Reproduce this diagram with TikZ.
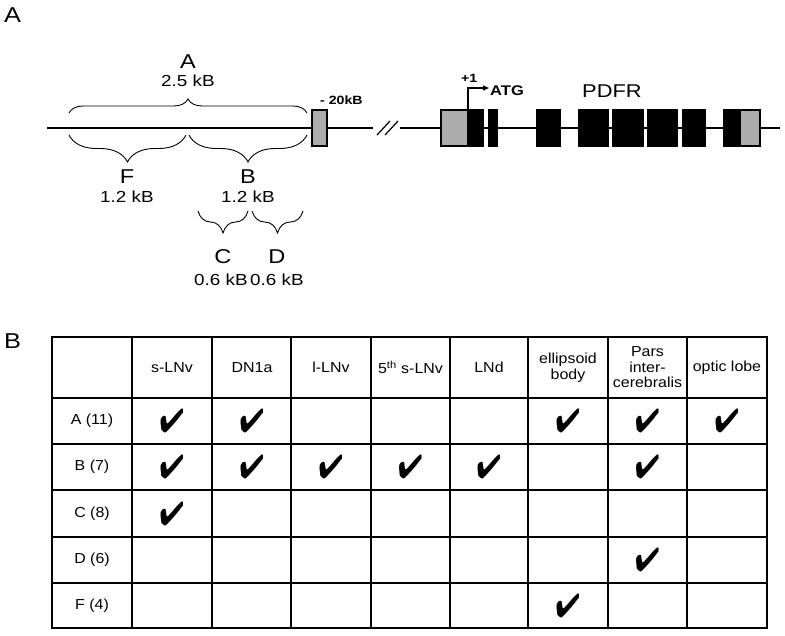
\documentclass[tikz,border=0pt]{standalone}
\usepackage{fontspec}
\setmainfont{Liberation Sans}
\newfontfamily\widefont{Liberation Sans}[FakeStretch=1.18]
\newfontfamily\tabfont{Liberation Sans}[FakeStretch=1.1]
\usepackage{pifont}
\usetikzlibrary{decorations.pathreplacing,arrows.meta}
\begin{document}
\begin{tikzpicture}[x=1pt,y=-1pt,
  panel/.style={font=\widefont\fontsize{21.5}{24}\selectfont,inner sep=0,anchor=base west},
  letlbl/.style={font=\widefont\fontsize{20}{22}\selectfont,inner sep=0,anchor=base},
  seglbl/.style={font=\widefont\fontsize{16}{19}\selectfont,inner sep=0,anchor=base},
  boldlbl/.style={font=\widefont\bfseries\fontsize{12}{14}\selectfont,inner sep=0,anchor=base west},
  dna/.style={line width=2.8pt},
  brc/.style={line width=0.9pt,decorate,decoration={brace,amplitude=#1}},
  utr/.style={draw=black,line width=1.2pt,fill=gray!65},
  exon/.style={draw=black,line width=1.2pt,fill=black},
  tcell/.style={font=\tabfont\fontsize{14.5}{15.5}\selectfont,inner sep=0,align=center},
  chk/.style={font=\fontsize{29}{29}\selectfont,inner sep=0},
  thin/.style={line width=1.2pt},
  thick/.style={line width=2.6pt}]
\useasboundingbox (0,0) rectangle (785,635);
% panel labels
\node[panel] (pA) at (4,22) {A};
\node[panel] (pB) at (4,348) {B};
% left DNA line
\draw[dna] (47,128) -- (373,128);
\draw[utr] (312,110) rectangle (327,146);
\node[boldlbl] (kb20) at (320,104) {- 20kB};
% break
\draw[line width=1.2pt] (377,135) -- (390,121);
\draw[line width=1.2pt] (385,135) -- (398,121);
% right DNA line
\draw[dna] (400,128) -- (780,128);
\draw[utr] (441,110) rectangle (468,146);
\draw[exon] (468,110) rectangle (483,146);
\draw[exon] (489,110) rectangle (497,146);
\draw[exon] (537,110) rectangle (560,146);
\draw[exon] (579,110) rectangle (608,146);
\draw[exon] (613,110) rectangle (643,146);
\draw[exon] (648,110) rectangle (677,146);
\draw[exon] (683,110) rectangle (705,146);
\draw[exon] (724,110) rectangle (740,146);
\draw[utr] (740,110) rectangle (760,146);
% transcription start
\coordinate (tss) at (468,110);
\coordinate (tssup) at (468,88);
\coordinate (tssend) at (489,88);
\draw[line width=1.2pt,-{Triangle[length=6pt,width=5pt]}] (tss) -- (tssup) -- (tssend);
\node[boldlbl] (p1) at (461,82) {+1};
\node[boldlbl,font=\widefont\bfseries\fontsize{14}{16}\selectfont] (atg) at (490,95) {ATG};
\node[seglbl,anchor=base west,font=\widefont\fontsize{18.5}{20}\selectfont] (pdfr) at (582,97) {PDFR};
% braces
\draw[brc=14pt] (69,113) -- (307,113);
\node[letlbl] (lA) at (188,68) {A};
\node[seglbl] (sA) at (188,86) {2.5 kB};
\draw[brc=27pt] (186,135) -- (69,135);
\node[letlbl] (lF) at (127,183) {F};
\node[seglbl] (sF) at (127,202) {1.2 kB};
\draw[brc=27pt] (307,135) -- (189,135);
\node[letlbl] (lB) at (248,183) {B};
\node[seglbl] (sB) at (248,202) {1.2 kB};
\draw[brc=22pt] (248,211) -- (198,211);
\node[letlbl] (lC) at (223,263) {C};
\node[seglbl] (sC) at (221,285) {0.6 kB};
\draw[brc=22pt] (303,211) -- (252,211);
\node[letlbl] (lD) at (277,263) {D};
\node[seglbl] (sD) at (277,285) {0.6 kB};
% table grid
\foreach \x in {132,212,291,371,450,528,608,687}
  \draw[thin] (\x,337) -- (\x,628);
\foreach \y in {398,444,490,537,583}
  \draw[thin] (52,\y) -- (767,\y);
\draw[thick] (52,337) rectangle (767,628);
% header
\node[tcell] (h1) at (172,367.5) {s-LNv};
\node[tcell] (h2) at (252,367.5) {DN1a};
\node[tcell] (h3) at (331,367.5) {l-LNv};
\node[tcell] (h4) at (410.5,367.5) {5\textsuperscript{th} s-LNv};
\node[tcell] (h5) at (489,367.5) {LNd};
\node[tcell] (h6) at (568,367.5) {ellipsoid\\body};
\node[tcell] (h7) at (647.5,367.5) {Pars\\inter-\\cerebralis};
\node[tcell] (h8) at (727,367.5) {optic lobe};
% row labels
\node[tcell] (r1) at (92,421) {A (11)};
\node[tcell] (r2) at (92,467) {B (7)};
\node[tcell] (r3) at (92,513.5) {C (8)};
\node[tcell] (r4) at (92,560) {D (6)};
\node[tcell] (r5) at (92,605.5) {F (4)};
% checks
\foreach \x/\y/\n in {172/421/a1,252/421/a2,568/421/a3,647.5/421/a4,727/421/a5,
  172/467/b1,252/467/b2,331/467/b3,410.5/467/b4,489/467/b5,647.5/467/b6,
  172/513.5/c1,647.5/560/d1,568/605.5/f1}
  \node[chk] (ck\n) at (\x,\y) {\scalebox{1}[1.15]{\ding{52}}};
\end{tikzpicture}
\end{document}
